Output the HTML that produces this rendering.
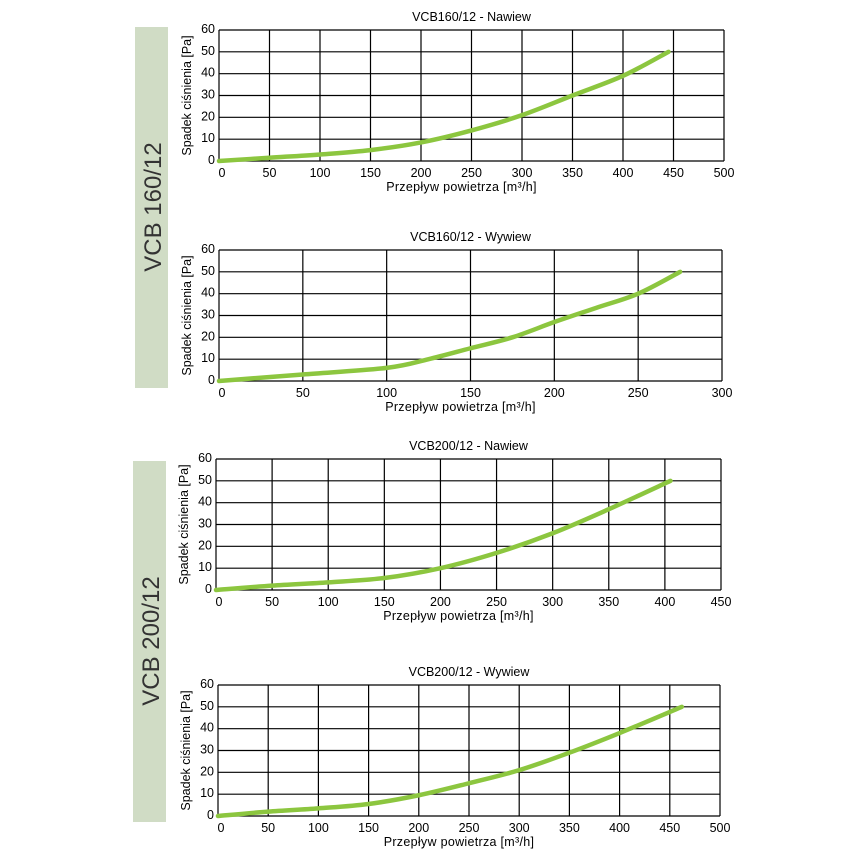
<!DOCTYPE html>
<html><head><meta charset="utf-8"><style>
html,body{margin:0;padding:0;background:#fff;}
svg{display:block;font-family:"Liberation Sans",sans-serif;}
</style></head><body>
<svg id="root" width="864" height="864" viewBox="0 0 864 864">
<rect x="135" y="27" width="33" height="361" fill="#d0dcc5"/>
<text transform="translate(161,207) rotate(-90)" text-anchor="middle" font-size="24" fill="#333">VCB 160/12</text>
<rect x="133" y="461" width="33" height="361" fill="#d0dcc5"/>
<text transform="translate(159,641) rotate(-90)" text-anchor="middle" font-size="24" fill="#333">VCB 200/12</text>
</svg>
<script>
const titles = ["VCB160/12 - Nawiew","VCB160/12 - Wywiew","VCB200/12 - Nawiew","VCB200/12 - Wywiew"];
const xMaxes = [500,300,450,500];
const xSteps = [50,50,50,50];
const yTicks = [0,10,20,30,40,50,60];
const flow1 = [0,50,100,150,200,250,300,350,400,445];
const drop1 = [0,1.5,3,5,8.5,14,21,30,39,50];
const flow2 = [0,50,100,125,150,175,200,225,250,275];
const drop2 = [0,3,6,10,15,20,27,33.5,40,50];
const flow3 = [0,50,100,150,200,250,300,350,405];
const drop3 = [0,2,3.5,5.5,10,17,26,37,50];
const flow4 = [0,50,100,150,200,250,300,350,400,462];
const drop4 = [0,2,3.5,5.5,9.5,15,21,29,38,50];
const flows = [flow1,flow2,flow3,flow4];
const drops = [drop1,drop2,drop3,drop4];
const boxes = [[219,724,30,161],[219,722,250,381],[216,721,459,590],[218,720,685,816]];
const NS="http://www.w3.org/2000/svg";
const root=document.getElementById('root');
function mk(tag,attrs,parent){const e=document.createElementNS(NS,tag);for(const k in attrs)e.setAttribute(k,attrs[k]);parent.appendChild(e);return e;}
for(let c=0;c<4;c++){
  const [L,R,T,B]=boxes[c];
  const xs=v=>L+(v/xMaxes[c])*(R-L);
  const ys=v=>B-(v/60)*(B-T);
  const g=mk('g',{},root);
  
  
  const t=mk('text',{x:(L+R)/2,y:T-9,'text-anchor':'middle','font-size':12.5,fill:'#000'},g);
  t.textContent=titles[c];
  
  
  for(const v of yTicks){
    const l=mk('line',{x1:L,x2:R,y1:ys(v),y2:ys(v),stroke:'#000','stroke-width':1.2},g);
    
    
    const tl=mk('text',{x:L-4,y:ys(v)+3,'text-anchor':'end','font-size':12.5,fill:'#000'},g);
    tl.textContent=v;
    
    
  }
  for(let v=0;v<=xMaxes[c];v+=xSteps[c]){
    const l=mk('line',{x1:xs(v),x2:xs(v),y1:T,y2:B,stroke:'#000','stroke-width':1.2},g);
    
    
    const tl=mk('text',{x:xs(v)+(v===0?3:0),y:B+16,'text-anchor':'middle','font-size':12.5,fill:'#000'},g);
    tl.textContent=v;
    
    
  }
  const xl=mk('text',{x:(L+R)/2-10,y:B+30,'text-anchor':'middle','font-size':12.5,fill:'#000','letter-spacing':0.3},g);
  xl.textContent='Przepływ powietrza [m³/h]';
  
  
  const yl=mk('text',{transform:`translate(${L-28},${(T+B)/2}) rotate(-90)`,'text-anchor':'middle','font-size':12.5,fill:'#000'},g);
  yl.textContent='Spadek ciśnienia [Pa]';
  
  
  const pts=flows[c].map((f,i)=>[xs(f),ys(drops[c][i])]);
  let d='M'+pts[0][0]+','+pts[0][1];
  for(let i=0;i<pts.length-1;i++){
    const p0=pts[i-1]||pts[i],p1=pts[i],p2=pts[i+1],p3=pts[i+2]||p2;
    d+=` C${p1[0]+(p2[0]-p0[0])/6},${p1[1]+(p2[1]-p0[1])/6} ${p2[0]-(p3[0]-p1[0])/6},${p2[1]-(p3[1]-p1[1])/6} ${p2[0]},${p2[1]}`;
  }
  const p=mk('path',{d:d,fill:'none',stroke:'#8cc63f','stroke-width':4.5,'stroke-linecap':'round'},g);
  
  
}
</script>
</body></html>
